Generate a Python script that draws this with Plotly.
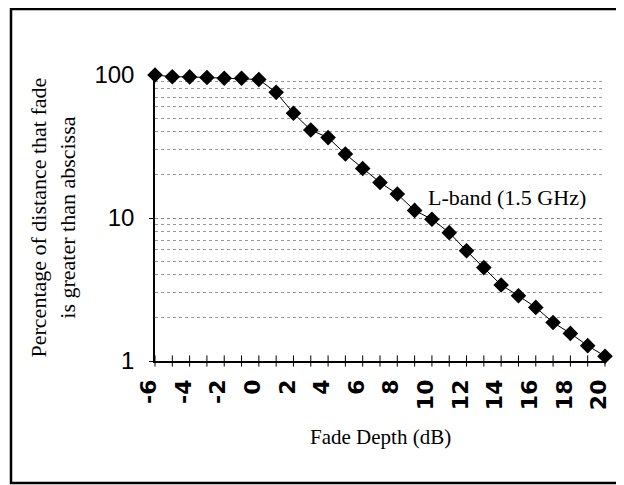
import plotly.graph_objects as go

# Data
fade_db = [-6, -5, -4, -3, -2, -1, 0, 1, 2, 3, 4, 5, 6, 7, 8, 9, 10,
           11, 12, 13, 14, 15, 16, 17, 18, 19, 20]
pct_exceed = [100, 97.3, 97, 96, 95, 95, 93, 75.6, 54, 41.2, 36.5, 28, 22.2,
              17.7, 14.7, 11.3, 9.8, 7.9, 5.9, 4.5, 3.4, 2.86, 2.37, 1.86,
              1.56, 1.28, 1.08]
x_tick_vals = list(range(-6, 21, 2))
x_tick_text = [str(v) for v in x_tick_vals]
x_minor_ticks = list(range(-6, 21))
y_tick_vals = [1, 10, 100]
y_tick_text = ["1", "10", "100"]
y_minor_grid = [2, 3, 4, 5, 6, 7, 8, 9, 20, 30, 40, 50, 60, 70, 80, 90]
series_label = "L-band (1.5 GHz)"
x_title = "Fade Depth (dB)"
y_title = "Percentage of distance that fade<br>is greater than abscissa"

fig = go.Figure()

# crossing tick marks on x axis
fig.add_trace(go.Scatter(
    x=x_minor_ticks, y=[1] * len(x_minor_ticks), mode="markers",
    marker=dict(symbol="line-ns", size=8, line=dict(width=1, color="black")),
    hoverinfo="skip", showlegend=False, cliponaxis=False))

fig.add_trace(go.Scatter(
    x=fade_db, y=pct_exceed, mode="lines+markers",
    line=dict(color="black", width=1),
    marker=dict(symbol="diamond", size=12, color="black"),
    showlegend=False, cliponaxis=False, name=series_label))

fig.update_layout(
    width=616, height=477,
    margin=dict(l=147, r=19, t=67, b=124),
    paper_bgcolor="white", plot_bgcolor="white",
    showlegend=False,
    xaxis=dict(
        range=[-6, 20], tickvals=x_tick_vals, ticktext=x_tick_text,
        tickangle=-90, ticks="", showgrid=False, zeroline=False,
        showline=True, linecolor="black", linewidth=1.5,
        tickfont=dict(family="DejaVu Sans", size=22, color="black", weight="bold"),
        ticklabelstandoff=8, ticklabelshift=-6,
    ),
    yaxis=dict(
        type="log", range=[0, 2], tickvals=y_tick_vals, ticktext=y_tick_text,
        ticks="outside", ticklen=4, tickcolor="black",
        showline=True, linecolor="black", linewidth=1.5,
        showgrid=True, gridcolor="#888888", griddash="dot", gridwidth=1,
        zeroline=False,
        tickfont=dict(family="Liberation Sans", size=24, color="black"),
        ticklabelstandoff=10,
        minor=dict(tickvals=y_minor_grid, showgrid=True, gridcolor="#999999",
                   griddash="dot", gridwidth=1, ticks=""),
    ),
    annotations=[
        dict(text=y_title, xref="paper", yref="paper", x=-0.2256, y=0.5035,
             textangle=-90, showarrow=False, xanchor="center", yanchor="middle",
             font=dict(family="Liberation Serif", size=22, color="black")),
        dict(text=x_title, xref="paper", yref="paper", x=0.5, y=-0.2657,
             showarrow=False, xanchor="center", yanchor="middle",
             font=dict(family="Liberation Serif", size=21, color="black")),
        dict(text=series_label, xref="paper", yref="paper", x=0.782, y=0.570,
             showarrow=False, xanchor="center", yanchor="middle",
             font=dict(family="Liberation Serif", size=22, color="black")),
    ],
    shapes=[
        dict(type="rect", xref="paper", yref="paper",
             x0=-0.32, x1=1.0356, y0=-0.4266, y1=1.2308,
             line=dict(color="black", width=2.5)),
    ],
)

fig.write_html("out.html")
